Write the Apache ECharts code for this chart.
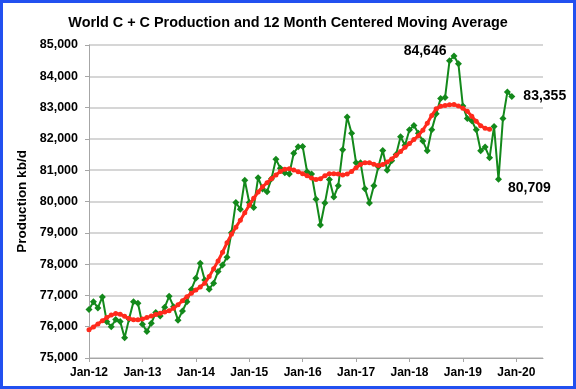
<!DOCTYPE html>
<html>
<head>
<meta charset="utf-8">
<script src="https://cdn.jsdelivr.net/npm/echarts@6/dist/echarts.min.js"></script>
<style>
html,body{margin:0;padding:0;background:#fff;}
#c{width:576px;height:389px;}
</style>
</head>
<body>
<div id="c"></div>
<script>
// Month categories Jan-12 .. Jul-20 (axis extent)
const monthNames = ['Jan','Feb','Mar','Apr','May','Jun','Jul','Aug','Sep','Oct','Nov','Dec'];
const startYear = 12;
const monthCount = 103;
const categories = [];
for (let i = 0; i < monthCount; i++) {
  categories.push(monthNames[i % 12] + '-' + (startYear + Math.floor(i / 12)));
}
const tickLabels = ['Jan-12','Jan-13','Jan-14','Jan-15','Jan-16','Jan-17','Jan-18','Jan-19','Jan-20'];

// World C+C production, kb/d (Jan-12 .. Dec-19)
const production = [
  76550, 76800, 76600, 76950, 76160, 76000, 76230, 76170, 75650, 76250, 76800, 76750,
  76080, 75850, 76110, 76450, 76340, 76620, 76970, 76640, 76210, 76500, 76800, 77190,
  77545, 78030, 77490, 77200, 77390, 77760, 77970, 78220, 79000, 79970, 79750, 80680,
  79970, 79810, 80760, 80400, 80310, 80730, 81350, 81060, 80920, 80880, 81540, 81750,
  81760, 80950, 80880, 80070, 79250, 79950, 80706, 80140, 80500, 81650, 82700, 82180,
  81240, 81240, 80410, 79950, 80500, 81110, 81630, 81000, 81300, 81500, 82070, 81800,
  82290, 82430, 82180, 81930, 81620, 82290, 82800, 83290, 83320, 84500, 84646, 84400,
  83050, 82650, 82580, 82290, 81620, 81740, 81400, 82400, 80709, 82650, 83500, 83355
];

// 12 month centered moving average, kb/d (Jan-12 .. Jul-19)
const movingAverage = [
  75900, 75990, 76090, 76190, 76290, 76370, 76420, 76400, 76330, 76260, 76220, 76220,
  76250, 76290, 76340, 76390, 76430, 76470, 76510, 76590, 76700, 76830, 76960, 77070,
  77170, 77270, 77390, 77600, 77850, 78100, 78380, 78680, 78950, 79180, 79400, 79640,
  79880, 80100, 80300, 80470, 80600, 80730, 80850, 80960, 81030, 81050, 81010, 80950,
  80890, 80820, 80750, 80700, 80730, 80820, 80890, 80890, 80880, 80850, 80880, 80960,
  81080, 81180, 81240, 81240, 81190, 81150, 81180, 81260, 81360, 81480, 81600, 81730,
  81850, 81980, 82100, 82280, 82500, 82750, 82960, 83040, 83070, 83090, 83100, 83050,
  82980, 82880, 82720, 82560, 82420, 82340, 82310
];

// Annotated points: [index, label position]
const annotations = [
  { idx: 82, pos: 'left', offset: [2, -5] },
  { idx: 92, pos: 'right', offset: [0, 9] },
  { idx: 95, pos: 'right', offset: [2, 0] }
];

const fmt = v => String(v).replace(/\B(?=(\d{3})+(?!\d))/g, ',');
const FONT = "'Liberation Sans', Arial, sans-serif";

const greenData = production.map((v, i) => {
  const a = annotations.find(x => x.idx === i);
  if (!a) return v;
  return {
    value: v,
    label: {
      show: true, position: a.pos, offset: a.offset, distance: 6,
      formatter: p => fmt(p.value),
      color: '#000', fontWeight: 'bold', fontSize: 14, fontFamily: FONT
    }
  };
});

const chart = echarts.init(document.getElementById('c'), null, { renderer: 'canvas' });
chart.setOption({
  animation: false,
  backgroundColor: '#fff',
  title: {
    text: 'World C + C Production and 12 Month Centered Moving Average',
    left: 'center', top: 11,
    textStyle: { fontFamily: FONT, fontWeight: 'bold', fontSize: 14.4, color: '#000' }
  },
  grid: { left: 89, right: 33, top: 45, bottom: 31, containLabel: false },
  xAxis: {
    type: 'category',
    data: categories,
    boundaryGap: false,
    axisLine: { lineStyle: { color: '#a6a6a6', width: 1 } },
    axisTick: { show: true, interval: i => i % 12 === 0, length: 4, lineStyle: { color: '#a6a6a6' } },
    axisLabel: {
      interval: i => i % 12 === 0,
      formatter: v => (tickLabels.indexOf(v) >= 0 ? v : ''),
      color: '#000', fontWeight: 'bold', fontSize: 12, fontFamily: FONT, margin: 9
    },
    splitLine: { show: false }
  },
  yAxis: {
    type: 'value',
    min: 75000, max: 85000, interval: 1000,
    name: 'Production kb/d',
    nameLocation: 'middle', nameGap: 60, nameRotate: 90,
    nameTextStyle: { fontFamily: FONT, fontWeight: 'bold', fontSize: 13.5, color: '#000' },
    axisLine: { show: true, lineStyle: { color: '#a6a6a6', width: 1 } },
    axisTick: { show: true, length: 4, lineStyle: { color: '#a6a6a6' } },
    axisLabel: {
      formatter: v => fmt(v),
      color: '#000', fontWeight: 'bold', fontSize: 12.5, fontFamily: FONT, margin: 11
    },
    splitLine: { show: true, lineStyle: { color: '#c8c8c8', width: 1.5 } }
  },
  series: [
    {
      name: 'C+C',
      type: 'line',
      data: greenData,
      symbol: 'diamond', symbolSize: 7, showAllSymbol: true,
      lineStyle: { color: '#13891b', width: 2 },
      itemStyle: { color: '#13891b' },
      z: 2
    },
    {
      name: 'CMA',
      type: 'line',
      data: movingAverage,
      symbol: 'circle', symbolSize: 5, showAllSymbol: true,
      lineStyle: { color: '#ff2a1c', width: 3 },
      itemStyle: { color: '#ff2a1c' },
      z: 3
    }
  ],
  graphic: [{
    type: 'rect',
    shape: { x: 1.5, y: 1.5, width: 573, height: 386 },
    style: { fill: 'none', stroke: '#2250f0', lineWidth: 3 },
    silent: true, z: 100
  }]
});
</script>
</body>
</html>
